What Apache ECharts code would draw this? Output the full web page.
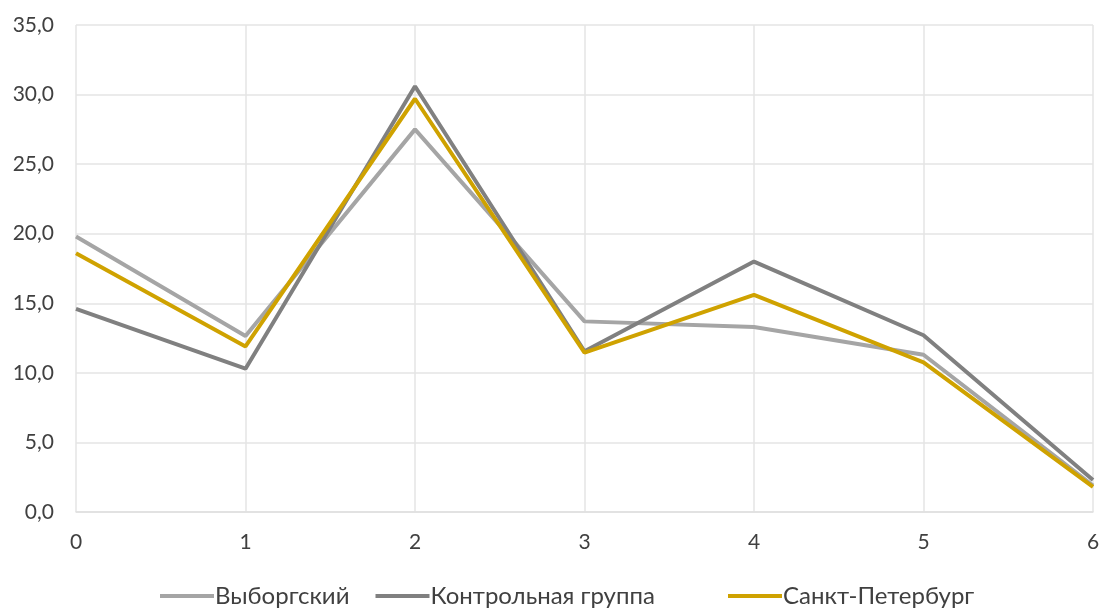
<!DOCTYPE html>
<html><head><meta charset="utf-8">
<script src="https://cdn.jsdelivr.net/npm/echarts@6/dist/echarts.min.js"></script>
<style>html,body{margin:0;padding:0;background:#fff}#c{width:1104px;height:612px}</style>
</head><body><div id="c"></div>
<script>
const categories = ['0','1','2','3','4','5','6'];
const vyborgsky = [19.8, 12.65, 27.5, 13.7, 13.3, 11.3, 1.9];
const control = [14.6, 10.3, 30.6, 11.55, 18.0, 12.7, 2.3];
const spb = [18.6, 11.9, 29.7, 11.45, 15.6, 10.75, 1.8];
const seriesNames = ['Выборгский', 'Контрольная группа', 'Санкт-Петербург'];

const chart = echarts.init(document.getElementById('c'));
const font = 'Lato, "Open Sans", sans-serif';
const legendBase = {
  bottom: -1, itemWidth: 54, itemHeight: 4, itemGap: 26, icon: 'rect',
  textStyle: { fontFamily: font, fontSize: 24, color: '#404040', padding: [0,0,0,-4] }
};
chart.setOption({
  animation: false,
  textStyle: { fontFamily: font },
  grid: { left: 76, right: 11, top: 25, bottom: 100, containLabel: false },
  legend: [
    Object.assign({}, legendBase, { left: 155, data: seriesNames.slice(0, 2) }),
    Object.assign({}, legendBase, { left: 723, data: seriesNames.slice(2) })
  ],
  xAxis: {
    type: 'category', data: categories, boundaryGap: false,
    axisLine: { lineStyle: { color: '#e0e0e0', width: 1.5 } },
    axisTick: { show: false },
    axisLabel: { color: '#404040', fontSize: 21, margin: 20, fontFamily: font },
    splitLine: { show: true, lineStyle: { color: '#e4e4e4', width: 1.5 } }
  },
  yAxis: {
    type: 'value', min: 0, max: 35, interval: 5,
    axisLine: { show: false }, axisTick: { show: false },
    axisLabel: { color: '#404040', fontSize: 21, margin: 22, fontFamily: font,
      formatter: v => v.toFixed(1).replace('.', ',') },
    splitLine: { lineStyle: { color: '#e4e4e4', width: 1.5 } }
  },
  series: [
    { name: seriesNames[0], type: 'line', data: vyborgsky, symbol: 'none',
      lineStyle: { width: 4, color: '#a5a5a5' }, itemStyle: { color: '#a5a5a5' } },
    { name: seriesNames[1], type: 'line', data: control, symbol: 'none',
      lineStyle: { width: 4, color: '#808080' }, itemStyle: { color: '#808080' } },
    { name: seriesNames[2], type: 'line', data: spb, symbol: 'none',
      lineStyle: { width: 4, color: '#cfa200' }, itemStyle: { color: '#cfa200' } }
  ]
});
</script></body></html>
